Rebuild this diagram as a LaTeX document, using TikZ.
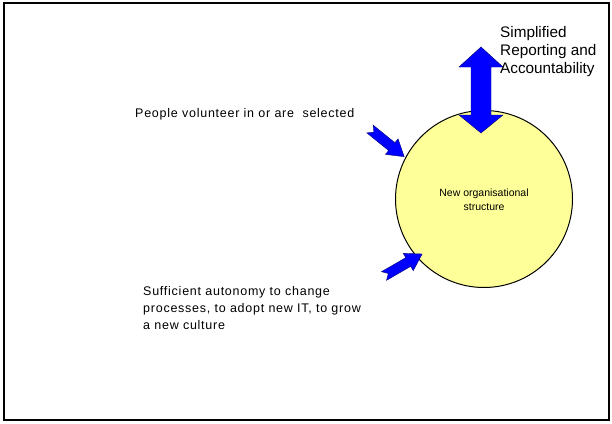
\documentclass[tikz,border=0pt]{standalone}
\usepackage{fontspec}
\setmainfont{Liberation Sans}
\begin{document}
\begin{tikzpicture}[x=1pt,y=-1pt,
  blockarrow/.style={fill={rgb,255:red,0;green,0;blue,255},draw={rgb,255:red,0;green,0;blue,120},line width=0.4pt,line join=miter},
  labeltext/.style={align=left,inner sep=0pt,anchor=north west},
  pics/notcharrow/.style={code={
    \path[blockarrow] (0,-5) -- (28,-5) -- (28,-10) -- (44,0) -- (28,10) -- (28,5) -- (0,5) -- (5,0) -- cycle;
  }}]
\definecolor{circfill}{RGB}{255,255,153}
\useasboundingbox (0,0) rectangle (612,423);
\fill[white] (0,0) rectangle (612,423);
\draw[line width=2pt] (4,3) rectangle (609,420);
% circle
\node[circle,draw,line width=1pt,fill=circfill,minimum size=177pt,inner sep=0pt] (org) at (484,199) {};
\node[align=center,font=\fontsize{10.5}{14}\selectfont,inner sep=0pt] (orgtext) at (484,200) {New organisational\\structure};
% double arrow
\path[blockarrow] (481,47) -- (503,67) -- (491,67) -- (491,115) -- (503,115) -- (481,133) -- (459,115) -- (471,115) -- (471,67) -- (459,67) -- cycle;
% small arrows
\pic[shift={(370,129)},rotate=-39] {notcharrow};
\pic[shift={(384,276)},rotate=30] {notcharrow};
% texts
\node[labeltext,font=\fontsize{15.3}{18}\selectfont] (simp) at (500,26) {Simplified\\Reporting and\\Accountability};
\node[labeltext,font=\fontsize{12.5}{15}\selectfont\addfontfeature{LetterSpace=6}] (people) at (135,108) {People volunteer in or are\ \ selected};
\node[labeltext,font=\fontsize{12.5}{17}\selectfont\addfontfeature{LetterSpace=6}] (auto) at (143,286) {Sufficient autonomy to change\\processes, to adopt new IT, to grow\\a new culture};
\end{tikzpicture}
\end{document}
